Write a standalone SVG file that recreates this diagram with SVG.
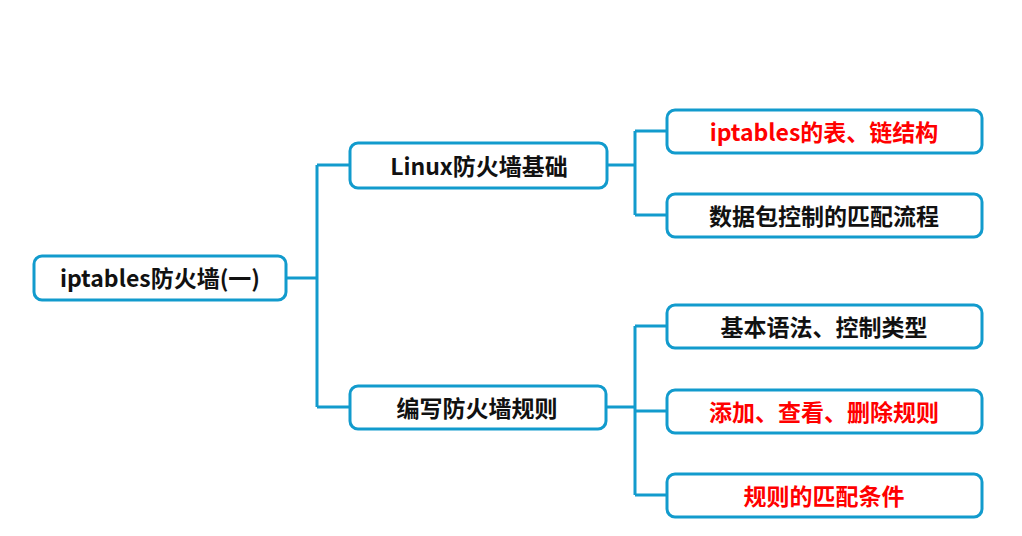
<svg xmlns="http://www.w3.org/2000/svg" width="1022" height="536" viewBox="0 0 1022 536">
<style>
.box{fill:#fff;stroke:#129bcd;stroke-width:3}
.ln{fill:none;stroke:#129bcd;stroke-width:3}
text{font-family:"Noto Sans CJK SC","Noto Sans",sans-serif;font-weight:bold;font-size:23px;text-anchor:middle;dominant-baseline:central}
.k{fill:#111}
.r{fill:#ff0000}
</style>
<rect width="1022" height="536" fill="#fff"/>
<g id="connectors">
<path class="ln" d="M286 278H317M317 165V407M317 165H350M317 407H350"/>
<path class="ln" d="M607 165H635M635 131V215M635 131H667M635 215H667"/>
<path class="ln" d="M606 407H635M635 326V495M635 326H667M635 411H667M635 495H667"/>
</g>
<g id="root"><rect class="box" x="34" y="256" width="252" height="44" rx="8"/><text class="k" x="160" y="277">iptables防火墙(一)</text></g>
<g id="n1"><rect class="box" x="350" y="143" width="257" height="45" rx="8"/><text class="k" x="479" y="164.5">Linux防火墙基础</text></g>
<g id="n2"><rect class="box" x="350" y="386" width="256" height="43" rx="8"/><text class="k" x="477" y="406.5">编写防火墙规则</text></g>
<g id="c1"><rect class="box" x="667" y="110" width="315" height="43" rx="8"/><text class="r" x="824" y="130.5">iptables的表、链结构</text></g>
<g id="c2"><rect class="box" x="667" y="194" width="315" height="43" rx="8"/><text class="k" x="824" y="214.5">数据包控制的匹配流程</text></g>
<g id="c3"><rect class="box" x="667" y="305" width="315" height="43" rx="8"/><text class="k" x="824" y="325.5">基本语法、控制类型</text></g>
<g id="c4"><rect class="box" x="667" y="390" width="315" height="43" rx="8"/><text class="r" x="824" y="410.5">添加、查看、删除规则</text></g>
<g id="c5"><rect class="box" x="667" y="474" width="315" height="43" rx="8"/><text class="r" x="824" y="494.5">规则的匹配条件</text></g>
</svg>
